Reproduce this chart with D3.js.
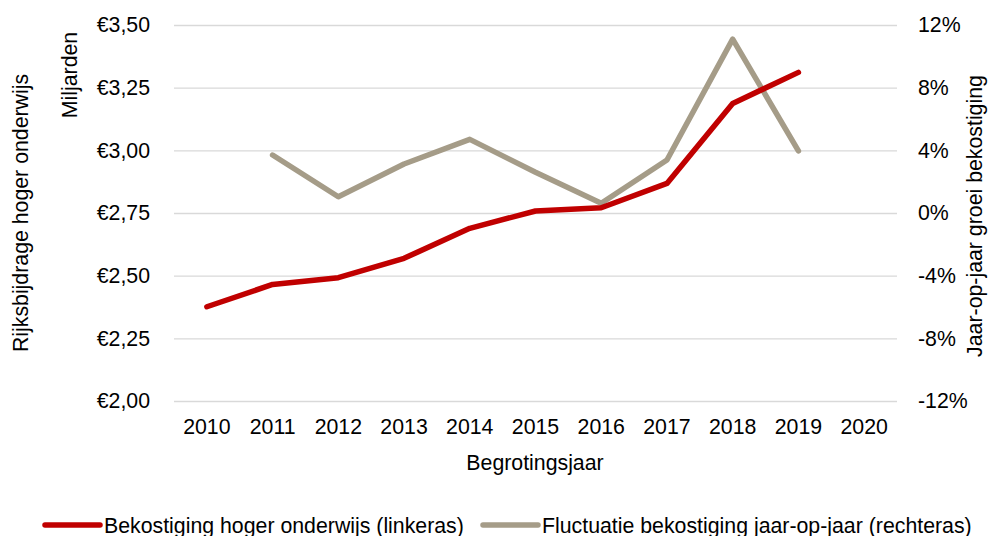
<!DOCTYPE html>
<html>
<head>
<meta charset="utf-8">
<script src="https://cdn.jsdelivr.net/npm/d3@7"></script>
<style>
  body { margin: 0; background: #fff; }
  svg text { font-family: "Liberation Sans", Arial, sans-serif; fill: #000; }
</style>
</head>
<body>
<div id="chart"></div>
<script>
"use strict"

// chart data
const years = ["2010", "2011", "2012", "2013", "2014", "2015", "2016", "2017", "2018", "2019", "2020"];
const funding = [2.376, 2.465, 2.492, 2.569, 2.689, 2.758, 2.771, 2.868, 3.187, 3.311, null];
const growth = [null, 3.70, 1.04, 3.13, 4.70, 2.60, 0.62, 3.38, 11.1, 3.96, null];
const leftTicks = [2.00, 2.25, 2.50, 2.75, 3.00, 3.25, 3.50];
const rightTicks = [-12, -8, -4, 0, 4, 8, 12];
const seriesNames = ["Bekostiging hoger onderwijs (linkeras)", "Fluctuatie bekostiging jaar-op-jaar (rechteras)"];

const fontSize = "21.3px";

let margin = {top: 25, right: 102, bottom: 135, left: 174};
let width = 999 - margin.left - margin.right,
    height = 536 - margin.top - margin.bottom;

let svg = d3.select("#chart")
  .append("svg")
  .attr("width", 999)
  .attr("height", 536);

let g = svg.append("g")
  .attr("transform", "translate(" + margin.left + "," + margin.top + ")");

let x = d3.scaleBand().domain(years).range([0, width]).padding(0);
let yLeft = d3.scaleLinear().domain([2, 3.5]).range([height, 0]);
let yRight = d3.scaleLinear().domain([-12, 12]).range([height, 0]);

const nl = d3.formatLocale({decimal: ",", thousands: ".", grouping: [3], currency: ["€", ""]});
const euro = nl.format("$.2f");

// gridlines
g.append("g")
  .call(d3.axisLeft(yLeft).tickValues(leftTicks).tickSize(-width).tickFormat(""))
  .call(s => s.select(".domain").remove())
  .selectAll("line")
  .attr("stroke", "#d9d9d9")
  .attr("stroke-width", 1.3);

// left axis
g.append("g")
  .call(d3.axisLeft(yLeft).tickValues(leftTicks).tickSize(0).tickPadding(24).tickFormat(euro))
  .call(s => s.select(".domain").remove())
  .selectAll("text")
  .style("font-size", fontSize);

// right axis
g.append("g")
  .attr("transform", "translate(" + width + ",0)")
  .call(d3.axisRight(yRight).tickValues(rightTicks).tickSize(0).tickPadding(21).tickFormat(d => d + "%"))
  .call(s => s.select(".domain").remove())
  .selectAll("text")
  .style("font-size", fontSize);

// bottom axis
g.append("g")
  .attr("transform", "translate(0," + height + ")")
  .call(d3.axisBottom(x).tickSize(0).tickPadding(18))
  .call(s => s.select(".domain").remove())
  .selectAll("text")
  .style("font-size", fontSize);

// axis titles
svg.append("text")
  .attr("x", 535).attr("y", 470)
  .attr("text-anchor", "middle")
  .style("font-size", fontSize)
  .text("Begrotingsjaar");

svg.append("text")
  .attr("transform", "translate(28,213) rotate(-90)")
  .attr("text-anchor", "middle")
  .style("font-size", fontSize)
  .text("Rijksbijdrage hoger onderwijs");

svg.append("text")
  .attr("transform", "translate(77,75) rotate(-90)")
  .attr("text-anchor", "middle")
  .style("font-size", fontSize)
  .text("Miljarden");

svg.append("text")
  .attr("transform", "translate(982,216) rotate(-90)")
  .attr("text-anchor", "middle")
  .style("font-size", fontSize)
  .text("Jaar-op-jaar groei bekostiging");

// lines
let lineLeft = d3.line()
  .defined(d => d[1] != null)
  .x(d => x(d[0]) + x.bandwidth() / 2)
  .y(d => yLeft(d[1]));

let lineRight = d3.line()
  .defined(d => d[1] != null)
  .x(d => x(d[0]) + x.bandwidth() / 2)
  .y(d => yRight(d[1]));

g.append("path")
  .datum(years.map((yr, i) => [yr, growth[i]]))
  .attr("fill", "none")
  .attr("stroke", "#a59c88")
  .attr("stroke-width", 5.5)
  .attr("stroke-linecap", "round")
  .attr("stroke-linejoin", "round")
  .attr("d", lineRight);

g.append("path")
  .datum(years.map((yr, i) => [yr, funding[i]]))
  .attr("fill", "none")
  .attr("stroke", "#c00000")
  .attr("stroke-width", 5.5)
  .attr("stroke-linecap", "round")
  .attr("stroke-linejoin", "round")
  .attr("d", lineLeft);

// legend
let legendItems = [
  {name: seriesNames[0], color: "#c00000", x: 45},
  {name: seriesNames[1], color: "#a59c88", x: 483}
];

let legend = svg.append("g").attr("transform", "translate(0,525)");
let items = legend.selectAll("g").data(legendItems).enter()
  .append("g")
  .attr("transform", d => "translate(" + d.x + ",0)");

items.append("line")
  .attr("x1", 0).attr("x2", 55)
  .attr("stroke", d => d.color)
  .attr("stroke-width", 5.5)
  .attr("stroke-linecap", "round");

items.append("text")
  .attr("x", 59).attr("y", 7.5)
  .style("font-size", fontSize)
  .text(d => d.name);
</script>
</body>
</html>
